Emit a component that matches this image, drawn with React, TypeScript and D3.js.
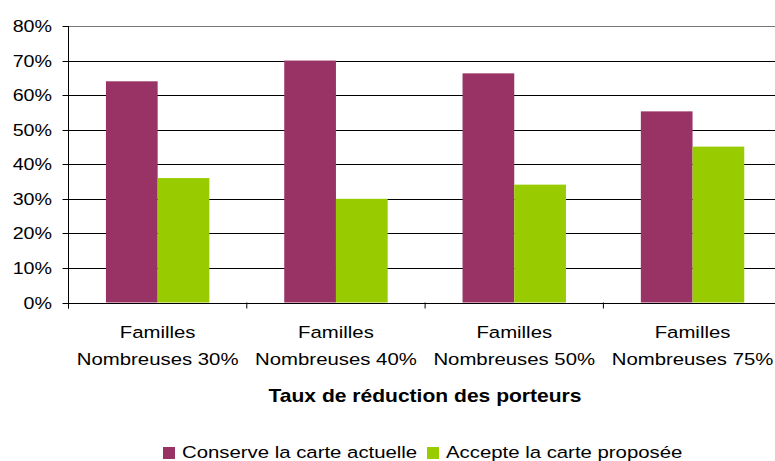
import React from "react";
import * as d3 from "d3";

const categories = [
  ["Familles", "Nombreuses 30%"],
  ["Familles", "Nombreuses 40%"],
  ["Familles", "Nombreuses 50%"],
  ["Familles", "Nombreuses 75%"],
];
const seriesNames = ["Conserve la carte actuelle", "Accepte la carte proposée"];
const conserve = [0.64, 0.70, 0.663, 0.553];
const accepte = [0.36, 0.30, 0.341, 0.451];
const yTicks = [0, 0.1, 0.2, 0.3, 0.4, 0.5, 0.6, 0.7, 0.8];
const axisTitle = "Taux de réduction des porteurs";
const colors = ["#993366", "#99CC00"];

const W = 775;
const H = 461;
const left = 68.5;
const step = 178.3;
const y0 = 302.5;
const yTop = 26;
const FONT = "'Liberation Sans', Arial, sans-serif";
const SX = 1.17;

function T({ x, y, anchor = "middle", size = 17.4, weight = "normal", children }: any) {
  return (
    <text
      transform={`translate(${x},${y}) scale(${SX},1)`}
      textAnchor={anchor}
      fontFamily={FONT}
      fontSize={size}
      fontWeight={weight}
      fill="#000"
    >
      {children}
    </text>
  );
}

export default function App() {
  const keys = categories.map((c) => c[1]);
  const x = d3.scaleBand<string>().domain(keys).range([left, left + step * keys.length]).padding(0);
  const xs = d3.scaleBand<string>().domain(["0", "1"]).range([0, x.bandwidth()]).paddingInner(0).paddingOuter(0.724);
  const y = d3.scaleLinear().domain([0, 0.8]).range([y0, yTop]);
  const fmt = d3.format(".0%");
  const data = [conserve, accepte];

  return (
    <svg width={W} height={H} style={{ position: "absolute", left: 0, top: 0, background: "#fff" }}>
      {/* gridlines */}
      {yTicks.map((t) => (
        <g key={t}>
          <line x1={left} x2={W} y1={Math.round(y(t)) + 0.5} y2={Math.round(y(t)) + 0.5} stroke={t === 0.8 ? "#777" : "#000"} strokeWidth={1} />
          <line x1={left - 6} x2={left} y1={Math.round(y(t)) + 0.5} y2={Math.round(y(t)) + 0.5} stroke="#000" />
          <T x={52} y={y(t) + 6} anchor="end" size={16.8}>{fmt(t)}</T>
        </g>
      ))}
      {/* bars */}
      {keys.map((k, i) => (
        <g key={k} transform={`translate(${x(k)},0)`}>
          {data.map((s, j) => (
            <rect
              key={j}
              x={xs(String(j))}
              y={y(s[i])}
              width={xs.bandwidth()}
              height={y0 - y(s[i])}
              fill={colors[j]}
            />
          ))}
        </g>
      ))}
      {/* axes */}
      <line x1={left} x2={left} y1={yTop} y2={y0 + 6} stroke="#000" />
      <line x1={left} x2={W} y1={Math.round(y0) + 0.5} y2={Math.round(y0) + 0.5} stroke="#000" />
      {keys.map((k, i) => (
        <line key={k} x1={left + step * i} x2={left + step * i} y1={y0} y2={y0 + 6} stroke="#000" />
      ))}
      {/* category labels */}
      {categories.map((c, i) => {
        const cx = (x(c[1]) as number) + x.bandwidth() / 2;
        return (
          <g key={i}>
            <T x={cx} y={338}>{c[0]}</T>
            <T x={cx} y={365}>{c[1]}</T>
          </g>
        );
      })}
      <T x={425} y={401.5} weight="bold" size={18}>{axisTitle}</T>
      {/* legend */}
      <rect x={163} y={447} width={12} height={12} fill={colors[0]} />
      <T x={182} y={457.5} anchor="start">{seriesNames[0]}</T>
      <rect x={427} y={447} width={12} height={12} fill={colors[1]} />
      <T x={446} y={457.5} anchor="start">{seriesNames[1]}</T>
    </svg>
  );
}
